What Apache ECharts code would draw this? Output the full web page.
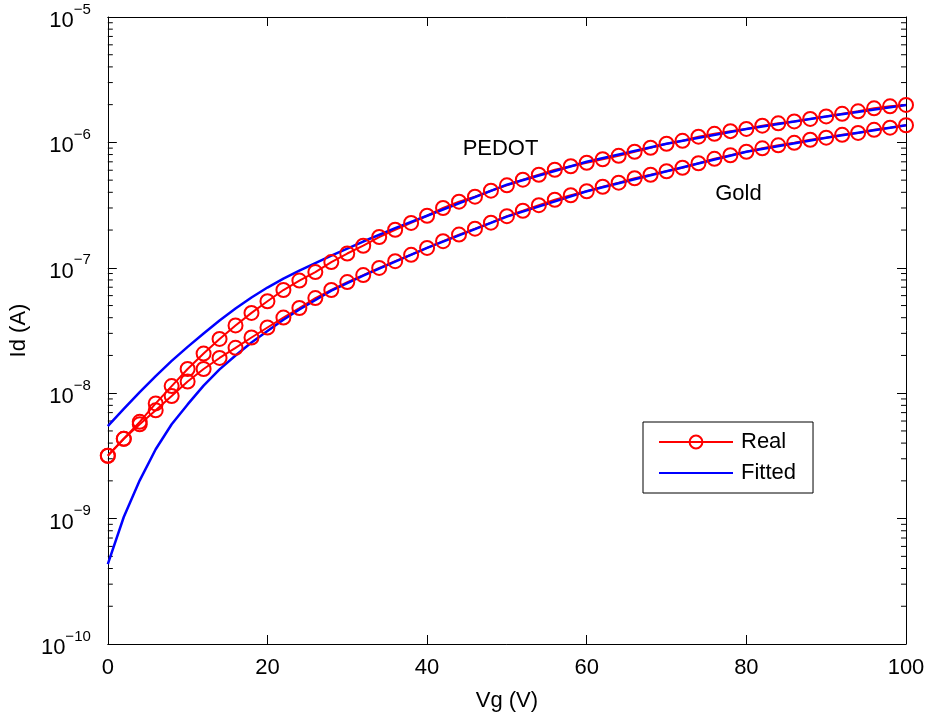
<!DOCTYPE html>
<html>
<head>
<meta charset="utf-8">
<script src="https://cdn.jsdelivr.net/npm/echarts@6/dist/echarts.min.js"></script>
<style>
html, body { margin: 0; padding: 0; background: #fff; }
#chart-container { width: 928px; height: 717px; }
</style>
</head>
<body>
<div id="chart-container"></div>
<script>
var dom = document.getElementById('chart-container');
var myChart = echarts.init(dom, null, { renderer: 'canvas' });

const FONT = '"Liberation Sans", Arial, Helvetica, sans-serif';

// gate voltage of the measured points
const vgReal = [0, 2, 4, 6, 8, 10, 12, 14, 16, 18, 20, 22, 24, 26, 28, 30, 32, 34, 36, 38, 40,
    42, 44, 46, 48, 50, 52, 54, 56, 58, 60, 62, 64, 66, 68, 70, 72, 74, 76, 78, 80,
    82, 84, 86, 88, 90, 92, 94, 96, 98, 100];

// measured drain current (A)
const pedotReal = [3.17e-9, 4.33e-9, 5.91e-9, 8.29e-9, 1.14e-8, 1.56e-8, 2.07e-8, 2.71e-8, 3.47e-8, 4.37e-8,
    5.41e-8, 6.65e-8, 7.91e-8, 9.24e-8, 1.11e-7, 1.30e-7, 1.50e-7, 1.76e-7, 2.01e-7, 2.28e-7,
    2.60e-7, 3.00e-7, 3.37e-7, 3.69e-7, 4.12e-7, 4.55e-7, 5.04e-7, 5.52e-7, 6.05e-7, 6.45e-7,
    6.88e-7, 7.34e-7, 7.82e-7, 8.42e-7, 9.06e-7, 9.75e-7, 1.03e-6, 1.11e-6, 1.17e-6, 1.23e-6,
    1.28e-6, 1.36e-6, 1.42e-6, 1.47e-6, 1.54e-6, 1.61e-6, 1.69e-6, 1.77e-6, 1.87e-6, 1.94e-6, 1.99e-6];

const goldReal = [3.17e-9, 4.33e-9, 5.65e-9, 7.30e-9, 9.48e-9, 1.24e-8, 1.56e-8, 1.91e-8, 2.30e-8, 2.78e-8,
    3.34e-8, 4.01e-8, 4.78e-8, 5.74e-8, 6.65e-8, 7.69e-8, 8.75e-8, 9.98e-8, 1.13e-7, 1.27e-7,
    1.44e-7, 1.63e-7, 1.84e-7, 2.05e-7, 2.29e-7, 2.58e-7, 2.85e-7, 3.16e-7, 3.49e-7, 3.79e-7,
    4.08e-7, 4.43e-7, 4.77e-7, 5.18e-7, 5.52e-7, 5.89e-7, 6.28e-7, 6.82e-7, 7.40e-7, 7.90e-7,
    8.42e-7, 8.97e-7, 9.48e-7, 9.93e-7, 1.05e-6, 1.09e-6, 1.15e-6, 1.19e-6, 1.26e-6, 1.31e-6, 1.37e-6];

// fitted curves
const vgFit = [0, 2, 4, 6, 8, 10, 12, 14, 16, 18, 20, 22, 24, 28, 32, 36, 40, 50, 60, 70, 80, 90, 100];
const pedotFit = [5.47e-9, 7.50e-9, 1.02e-8, 1.37e-8, 1.81e-8, 2.34e-8, 2.99e-8, 3.80e-8, 4.73e-8, 5.79e-8,
    6.96e-8, 8.20e-8, 9.50e-8, 1.25e-7, 1.62e-7, 2.07e-7, 2.60e-7, 4.60e-7, 7.01e-7, 9.75e-7,
    1.28e-6, 1.61e-6, 1.99e-6];
const goldFit = [4.34e-10, 1.03e-9, 2.02e-9, 3.57e-9, 5.65e-9, 8.14e-9, 1.15e-8, 1.55e-8, 2.00e-8, 2.54e-8,
    3.13e-8, 3.85e-8, 4.65e-8, 6.58e-8, 8.67e-8, 1.12e-7, 1.44e-7, 2.56e-7, 4.08e-7, 5.89e-7,
    8.42e-7, 1.09e-6, 1.37e-6];

// text annotations
const noteText = ['PEDOT', 'Gold'];
const noteVg = [49.2, 79];
const noteId = [8.8e-7, 3.9e-7];

const xTicks = [0, 20, 40, 60, 80, 100];
const minorMantissa = [2, 3, 4, 5, 6, 7, 8, 9];
const decades = [-10, -9, -8, -7, -6];

function pairs(xs, ys) {
    return xs.map(function (x, i) { return [x, ys[i]]; });
}

let minorTicks = [];
decades.forEach(function (d) {
    minorMantissa.forEach(function (m) { minorTicks.push([0, m * Math.pow(10, d)]); });
});

function supLabel(value) {
    const e = Math.round(Math.log10(value));
    return '{b|10}{s|' + (e < 0 ? '\u2212' : '') + Math.abs(e) + '}';
}

const axisBase = {
    axisLine: { show: true, onZero: false, lineStyle: { color: '#000', width: 1 } },
    axisTick: { show: true, inside: true, length: 9, lineStyle: { color: '#000' } },
    splitLine: { show: false }
};

const realStyle = {
    type: 'line',
    name: 'Real',
    symbol: 'circle',
    symbolSize: 14,
    showAllSymbol: true,
    lineStyle: { color: '#ff0000', width: 2 },
    itemStyle: { color: 'transparent', borderColor: '#ff0000', borderWidth: 2 },
    emphasis: { disabled: true },
    animation: false
};
const fitStyle = {
    type: 'line',
    name: 'Fitted',
    symbol: 'none',
    lineStyle: { color: '#0000ff', width: 2.5 },
    itemStyle: { color: '#0000ff' },
    emphasis: { disabled: true },
    animation: false
};

var option = {
    backgroundColor: '#fff',
    animation: false,
    textStyle: { fontFamily: FONT },
    grid: { left: 107, right: 22, top: 17, bottom: 72 },
    legend: {
        data: [
            { name: 'Real' },
            { name: 'Fitted', itemStyle: { color: 'transparent', borderColor: 'transparent', borderWidth: 0 } }
        ],
        orient: 'vertical',
        left: 643,
        top: 422,
        padding: [9, 17, 9, 15],
        itemGap: 9,
        itemWidth: 74,
        itemHeight: 16,
        selectedMode: false,
        backgroundColor: '#fff',
        borderColor: '#000',
        borderWidth: 1,
        borderRadius: 0,
        textStyle: { fontSize: 22, color: '#000', fontFamily: FONT, padding: [0, 0, 0, 3] }
    },
    xAxis: [
        Object.assign({}, axisBase, {
            type: 'value', min: 0, max: 100, interval: 20, position: 'bottom',
            name: 'Vg (V)', nameLocation: 'middle', nameGap: 46,
            nameTextStyle: { fontSize: 22, color: '#000', fontFamily: FONT },
            axisLabel: { fontSize: 22, color: '#000', margin: 13, fontFamily: FONT,
                formatter: function (v) { return xTicks.indexOf(v) >= 0 ? String(v) : ''; } }
        }),
        Object.assign({}, axisBase, {
            type: 'value', min: 0, max: 100, interval: 20, position: 'top',
            axisLabel: { show: false }
        })
    ],
    yAxis: [
        Object.assign({}, axisBase, {
            type: 'log', logBase: 10, min: 1e-10, max: 1e-5, position: 'left',
            name: 'Id (A)', nameLocation: 'middle', nameGap: 72, nameRotate: 90,
            nameTextStyle: { fontSize: 22, color: '#000', fontFamily: FONT },
            axisLabel: {
                showMinLabel: true, showMaxLabel: true, margin: 17,
                formatter: supLabel,
                rich: {
                    b: { fontSize: 22, color: '#000', fontFamily: FONT, verticalAlign: 'bottom', lineHeight: 30 },
                    s: { fontSize: 15, color: '#000', fontFamily: FONT, verticalAlign: 'top', lineHeight: 30 }
                }
            }
        }),
        Object.assign({}, axisBase, {
            type: 'log', logBase: 10, min: 1e-10, max: 1e-5, position: 'right',
            axisLabel: { show: false }
        })
    ],
    series: [
        Object.assign({}, realStyle, { data: pairs(vgReal, pedotReal) }),
        Object.assign({}, realStyle, { data: pairs(vgReal, goldReal) }),
        Object.assign({}, fitStyle, { data: pairs(vgFit, pedotFit) }),
        Object.assign({}, fitStyle, { data: pairs(vgFit, goldFit) }),
        {
            type: 'scatter',
            name: 'notes',
            symbolSize: 0,
            silent: true,
            itemStyle: { opacity: 1, color: '#000' },
            data: noteText.map(function (t, i) { return { name: t, value: [noteVg[i], noteId[i]] }; }),
            label: { show: true, position: 'inside', formatter: '{b}', fontSize: 22, color: '#000', opacity: 1, fontFamily: FONT },
            animation: false
        },
        {
            // minor ticks of the log axis, on both sides of the box
            type: 'custom',
            name: 'minor',
            silent: true,
            clip: false,
            data: minorTicks,
            renderItem: function (params, api) {
                const y = api.coord([0, api.value(1)])[1];
                const cs = params.coordSys;
                return {
                    type: 'group',
                    children: [
                        { type: 'line', shape: { x1: cs.x, y1: y, x2: cs.x + 5, y2: y }, style: { stroke: '#000', lineWidth: 1 } },
                        { type: 'line', shape: { x1: cs.x + cs.width - 5, y1: y, x2: cs.x + cs.width, y2: y }, style: { stroke: '#000', lineWidth: 1 } }
                    ]
                };
            },
            animation: false
        }
    ]
};

if (option && typeof option === 'object') {
    myChart.setOption(option);
}

window.addEventListener('resize', myChart.resize);
</script>
</body>
</html>
